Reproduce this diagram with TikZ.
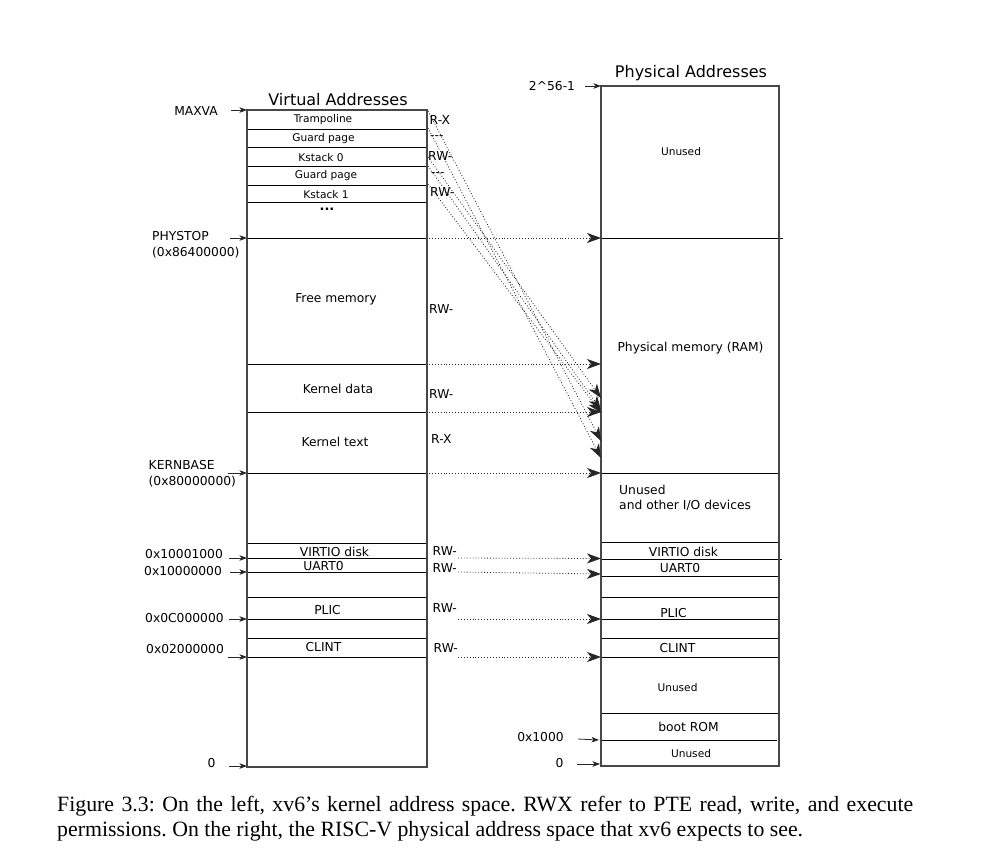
\documentclass[tikz,border=0pt]{standalone}
\usepackage{fontspec}
\setmainfont{DejaVu Sans}
\newfontfamily\capfont{Liberation Serif}
\usetikzlibrary{arrows.meta}
\begin{document}
\begin{tikzpicture}[x=1pt,y=-1pt,
  outer/.style={draw=black!72, line width=1.4pt},
  row/.style={draw=black, line width=0.9pt},
  lbl/.style={inner sep=0pt, font=\fontsize{12.3}{14}\selectfont},
  sm/.style={inner sep=0pt, font=\fontsize{10.6}{12}\selectfont},
  ttl/.style={inner sep=0pt, font=\fontsize{16}{19}\selectfont},
  tick/.style={-{Stealth[length=7.5pt,width=5.5pt,inset=2pt]}, line width=0.8pt, black!85},
  map/.style={-{Stealth[length=14pt,width=10pt,inset=4pt]}, dash pattern=on 0.9pt off 2pt, line width=0.8pt, black!85},
  captxt/.style={inner sep=0pt, anchor=west, font=\capfont\fontsize{21.8}{25}\selectfont\frenchspacing},
]
\useasboundingbox (0,0) rectangle (984,848);

% ---------- virtual address box ----------
\coordinate (vTL) at (247,110);
\coordinate (vBR) at (427,767);
\foreach \y in {129,147,166,185,202,238,364,412,473,543,558,572,597,619,638,657}
  \draw[row] (247,\y) -- (427,\y);
\draw[outer] (vTL) rectangle (vBR);

% ---------- physical address box ----------
\coordinate (pTL) at (601,86);
\coordinate (pBR) at (779,766);
\foreach \y in {473,542,576,597,619,638,657,713}
  \draw[row] (601,\y) -- (779,\y);
\draw[row] (601,238) -- (783,238);
\draw[row] (601,559) -- (782,559);
\draw[row] (601,740) -- (777,740);
\draw[outer] (pTL) rectangle (pBR);

% ---------- titles ----------
\node[ttl] (tVA) at (338,99.5) {Virtual Addresses};
\node[ttl] (tPA) at (691,73.5) {Physical Addresses};

% ---------- left address labels ----------
\node[lbl] (lMAXVA) at (196,111.5) {MAXVA};
\node[lbl, anchor=west] (lPHY) at (152,236) {PHYSTOP};
\node[lbl, anchor=west] (lPHYa) at (152,252.5) {(0x86400000)};
\node[lbl, anchor=west] (lKB) at (148.5,465) {KERNBASE};
\node[lbl, anchor=west] (lKBa) at (148.5,481.5) {(0x80000000)};
\node[lbl, anchor=west] (lV1) at (145,554) {0x10001000};
\node[lbl, anchor=west] (lU0) at (144,571) {0x10000000};
\node[lbl, anchor=west] (lPL) at (145,618.5) {0x0C000000};
\node[lbl, anchor=west] (lCL) at (146,649.5) {0x02000000};
\node[lbl] (lZero) at (211.5,763.5) {0};

\coordinate (aMAXVAs) at (231,110);   \coordinate (aMAXVAe) at (247,110);
\coordinate (aPHYs) at (230,238);     \coordinate (aPHYe) at (247,238);
\coordinate (aKBs) at (228,473);      \coordinate (aKBe) at (247,473);
\coordinate (aV1s) at (229,558);      \coordinate (aV1e) at (247,558);
\coordinate (aU0s) at (230,572);      \coordinate (aU0e) at (247,572);
\coordinate (aPLs) at (229,619);      \coordinate (aPLe) at (247,619);
\coordinate (aCLs) at (228,657);      \coordinate (aCLe) at (247,657);
\coordinate (aZs) at (229,766);       \coordinate (aZe) at (247,766);
\foreach \s/\e in {aMAXVAs/aMAXVAe,aPHYs/aPHYe,aKBs/aKBe,aV1s/aV1e,aU0s/aU0e,aPLs/aPLe,aCLs/aCLe,aZs/aZe}
  \draw[tick] (\s) -- (\e);

% ---------- left region labels ----------
\node[sm] (vTr) at (323,120) {Trampoline};
\node[sm] (vG0) at (323.5,139) {Guard page};
\node[sm] (vK0) at (321,157.5) {Kstack 0};
\node[sm] (vG1) at (326,176) {Guard page};
\node[sm] (vK1) at (326,194.5) {Kstack 1};
\node[inner sep=0pt, font=\fontsize{13}{15}\selectfont\bfseries] (vDots) at (327,209) {...};
\node[lbl] (vFree) at (336,299) {Free memory};
\node[lbl] (vKD) at (338,389) {Kernel data};
\node[lbl] (vKT) at (335,442) {Kernel text};
\node[lbl] (vVirt) at (334.5,551.5) {VIRTIO disk};
\node[lbl] (vUart) at (323.5,566) {UART0};
\node[lbl] (vPlic) at (327.5,610) {PLIC};
\node[lbl] (vClint) at (323.5,647.5) {CLINT};

% ---------- permissions ----------
\node[lbl, anchor=west] (pTr) at (429.5,120) {R-X};
\node[lbl, anchor=west] (pG0) at (430,137.5) {-{}-{}-};
\node[lbl, anchor=west] (pK0) at (428,156) {RW-};
\node[lbl, anchor=west] (pG1) at (431,174.5) {-{}-{}-};
\node[lbl, anchor=west] (pK1) at (430,192.5) {RW-};
\node[lbl, anchor=west] (pFree) at (429,309) {RW-};
\node[lbl, anchor=west] (pKD) at (429,394) {RW-};
\node[lbl, anchor=west] (pKT) at (431,439) {R-X};
\node[lbl, anchor=west] (pVirt) at (432.5,551.5) {RW-};
\node[lbl, anchor=west] (pUart) at (432.5,568.5) {RW-};
\node[lbl, anchor=west] (pPlic) at (432.5,608.5) {RW-};
\node[lbl, anchor=west] (pClint) at (433.5,648.5) {RW-};

% ---------- right labels ----------
\node[lbl] (r2) at (552,86) {2\textasciicircum{}56-1};
\coordinate (a2s) at (585,86); \coordinate (a2e) at (601,86);
\draw[tick] (a2s) -- (a2e);
\node[sm] (rUn1) at (681,152) {Unused};
\node[lbl] (rRAM) at (690.5,348.5) {Physical memory (RAM)};
\node[lbl, anchor=west] (rIO1) at (619,489.5) {Unused};
\node[lbl, anchor=west] (rIO2) at (619,505.5) {and other I/O devices};
\node[lbl] (rVirt) at (683.5,551.5) {VIRTIO disk};
\node[lbl] (rUart) at (680,568.5) {UART0};
\node[lbl] (rPlic) at (673.5,613.5) {PLIC};
\node[lbl] (rClint) at (677.5,648.5) {CLINT};
\node[sm] (rUn2) at (677.5,688) {Unused};
\node[lbl] (rBoot) at (688.5,726.5) {boot ROM};
\node[sm] (rUn3) at (691,754) {Unused};
\node[lbl] (r1000) at (540.5,737.5) {0x1000};
\node[lbl] (rZero) at (559.5,763) {0};
\coordinate (a1ks) at (578,739); \coordinate (a1ke) at (599,740);
\coordinate (a0s) at (577,764);  \coordinate (a0e) at (600,764);
\draw[tick] (a1ks) -- (a1ke);
\draw[tick] (a0s) -- (a0e);

% ---------- horizontal mappings ----------
\coordinate (mPHYs) at (429,238);  \coordinate (mPHYe) at (601,238);
\coordinate (mFMs) at (429,364);   \coordinate (mFMe) at (601,364);
\coordinate (mKDs) at (429,412);   \coordinate (mKDe) at (601,412);
\coordinate (mKBs) at (429,473);   \coordinate (mKBe) at (601,473);
\coordinate (mV1s) at (458,558);   \coordinate (mV1e) at (601,558.5);
\coordinate (mU0s) at (458,572);   \coordinate (mU0e) at (601,574);
\coordinate (mPLs) at (458,619);   \coordinate (mPLe) at (601,619);
\coordinate (mCLs) at (458,657);   \coordinate (mCLe) at (601,657);
\foreach \s/\e in {mPHYs/mPHYe,mFMs/mFMe,mKDs/mKDe,mKBs/mKBe,mV1s/mV1e,mU0s/mU0e,mPLs/mPLe,mCLs/mCLe}
  \draw[map] (\s) -- (\e);

% ---------- diagonal mappings ----------
\coordinate (d1s) at (428,111); \coordinate (d1e) at (601,441);
\coordinate (d2s) at (428,128); \coordinate (d2e) at (601,458);
\coordinate (d3s) at (428,157); \coordinate (d3e) at (601,398);
\coordinate (d4s) at (428,166); \coordinate (d4e) at (601,410);
\coordinate (d5s) at (428,184); \coordinate (d5e) at (601,413);
\foreach \s/\e in {d1s/d1e,d2s/d2e,d3s/d3e,d4s/d4e,d5s/d5e}
  \draw[map] (\s) -- (\e);

% ---------- caption ----------
\node[captxt] (cap1) at (57,806) {\makebox[856pt][s]{Figure 3.3: On the left, xv6’s kernel address space. RWX refer to PTE read, write, and execute}};
\node[captxt] (cap2) at (57,831) {permissions. On the right, the RISC-V physical address space that xv6 expects to see.};
\end{tikzpicture}
\end{document}
